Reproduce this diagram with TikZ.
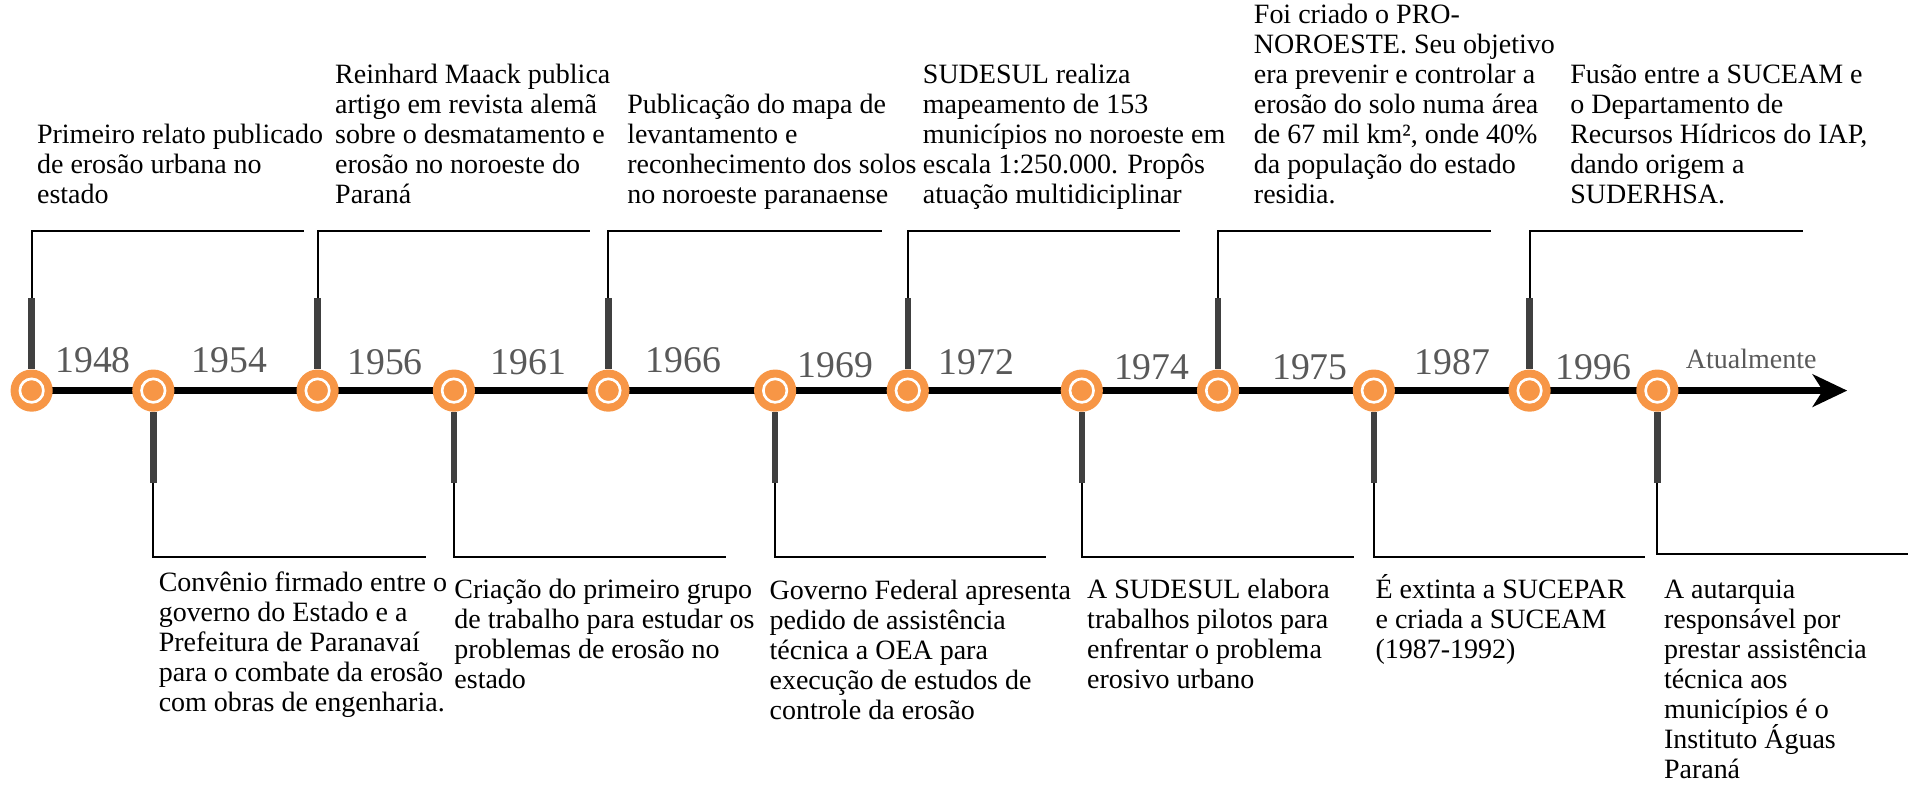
\documentclass[tikz,border=0pt]{standalone}
\usepackage{fontspec}
\setmainfont{Liberation Serif}
\usetikzlibrary{arrows.meta}
\definecolor{dotorange}{HTML}{F79646}
\definecolor{stemgray}{HTML}{404040}
\definecolor{yeargray}{HTML}{595959}

\begin{document}
\begin{tikzpicture}[
				x=0.6pt, y=-0.6pt,
				line width=0.2mm,
				timeline/.style={line width=3.45pt, -{Stealth[length=17pt, width=16pt, inset=5pt]}},
				stem/.style={stemgray, line width=3.2pt},
				leader/.style={black, line width=1pt},
				dot/.style={circle, fill=dotorange, minimum size=20.8pt, inner sep=0pt,
					path picture={\draw[white, line width=1.3pt] (path picture bounding box.center) circle (5.8pt);}},
				year/.style={anchor=base west, inner sep=0pt, text=yeargray, font=\fontsize{18.6}{20}\selectfont},
				event/.style={anchor=base west, inner sep=0pt, align=left, font=\fontsize{13.8}{14.8}\selectfont},
			]
				\useasboundingbox (0,0) rectangle (1568,647);
				% time axis
				\coordinate (start) at (26,321);
				\coordinate (tip) at (1518,321);
				\draw[timeline] (start) -- (tip);
				
				% dots on the axis
				\node (c1948) [dot] at (26,321) {};
				\node (c1954) [dot] at (126,321) {};
				\node (c1956) [dot] at (261,321) {};
				\node (c1961) [dot] at (373,321) {};
				\node (c1966) [dot] at (500,321) {};
				\node (c1969) [dot] at (637,321) {};
				\node (c1972) [dot] at (746,321) {};
				\node (c1974) [dot] at (889,321) {};
				\node (c1975) [dot] at (1001,321) {};
				\node (c1987) [dot] at (1129,321) {};
				\node (c1996) [dot] at (1257,321) {};
				\node (cnow) [dot] at (1362,321) {};
				
				% years
				\node (y1948) [year] at (45,306) {1948};
				\node (y1954) [year] at (157,306) {1954};
				\node (y1956) [year] at (285,308) {1956};
				\node (y1961) [year] at (403,308) {1961};
				\node (y1966) [year] at (530,306) {1966};
				\node (y1969) [year] at (655,310) {1969};
				\node (y1972) [year] at (771,308) {1972};
				\node (y1974) [year] at (915,312) {1974};
				\node (y1975) [year] at (1045,312) {1975};
				\node (y1987) [year] at (1162,308) {1987};
				\node (y1996) [year] at (1278,312) {1996};
				\node (ynow) [year, font=\fontsize{13.8}{15}\selectfont] at (1385,303) {Atualmente};
				
				% stems above the axis
				\coordinate (s1948) at (26,245);   \coordinate (e1948) at (250,190);
				\coordinate (s1956) at (261,245);  \coordinate (e1956) at (485,190);
				\coordinate (s1966) at (500,245);  \coordinate (e1966) at (725,190);
				\coordinate (s1972) at (746,245);  \coordinate (e1972) at (970,190);
				\coordinate (s1975) at (1001,245); \coordinate (e1975) at (1225,190);
				\coordinate (s1996) at (1257,245); \coordinate (e1996) at (1482,190);
				% stems below the axis
				\coordinate (s1954) at (126,397);  \coordinate (e1954) at (350,458);
				\coordinate (s1961) at (373,397);  \coordinate (e1961) at (597,458);
				\coordinate (s1969) at (637,397);  \coordinate (e1969) at (860,458);
				\coordinate (s1974) at (889,397);  \coordinate (e1974) at (1113,458);
				\coordinate (s1987) at (1129,397); \coordinate (e1987) at (1352,458);
				\coordinate (snow) at (1362,397);  \coordinate (enow) at (1568,455);
				
				\draw[stem] (c1948) -- (s1948);
				\draw[stem] (c1956) -- (s1956);
				\draw[stem] (c1966) -- (s1966);
				\draw[stem] (c1972) -- (s1972);
				\draw[stem] (c1975) -- (s1975);
				\draw[stem] (c1996) -- (s1996);
				\draw[stem] (c1954) -- (s1954);
				\draw[stem] (c1961) -- (s1961);
				\draw[stem] (c1969) -- (s1969);
				\draw[stem] (c1974) -- (s1974);
				\draw[stem] (c1987) -- (s1987);
				\draw[stem] (cnow) -- (snow);
				
				\draw[leader] (s1948) -- (s1948 |- e1948) -- (e1948);
				\draw[leader] (s1956) -- (s1956 |- e1956) -- (e1956);
				\draw[leader] (s1966) -- (s1966 |- e1966) -- (e1966);
				\draw[leader] (s1972) -- (s1972 |- e1972) -- (e1972);
				\draw[leader] (s1975) -- (s1975 |- e1975) -- (e1975);
				\draw[leader] (s1996) -- (s1996 |- e1996) -- (e1996);
				\draw[leader] (s1954) -- (s1954 |- e1954) -- (e1954);
				\draw[leader] (s1961) -- (s1961 |- e1961) -- (e1961);
				\draw[leader] (s1969) -- (s1969 |- e1969) -- (e1969);
				\draw[leader] (s1974) -- (s1974 |- e1974) -- (e1974);
				\draw[leader] (s1987) -- (s1987 |- e1987) -- (e1987);
				\draw[leader] (snow) -- (snow |- enow) -- (enow);
				
				% texts above (placed by their last line)
				\node (t1948) [event] at (30,167) {Primeiro relato publicado\\de erosão urbana no\\estado};
				\node (t1956) [event] at (275,167) {Reinhard Maack publica\\artigo em revista alemã\\sobre o desmatamento e\\erosão no noroeste do\\Paraná};
				\node (t1966) [event] at (515,167) {Publicação do mapa de\\levantamento e\\reconhecimento dos solos\\no noroeste paranaense};
				\node (t1972) [event] at (758,167) {SUDESUL realiza\\mapeamento de 153\\municípios no noroeste em\\escala 1:250.000. Propôs\\atuação multidiciplinar};
				\node (t1975) [event] at (1030,167) {Foi criado o PRO-\\NOROESTE. Seu objetivo\\era prevenir e controlar a\\erosão do solo numa área\\de 67 mil km², onde 40\%\\da população do estado\\residia.};
				\node (t1996) [event] at (1290,167) {Fusão entre a SUCEAM e\\o Departamento de\\Recursos Hídricos do IAP,\\dando origem a\\SUDERHSA.};
				
				% texts below (placed by their last line)
				\node (t1954) [event] at (130,585) {Convênio firmado entre o\\governo do Estado e a\\Prefeitura de Paranavaí\\para o combate da erosão\\com obras de engenharia.};
				\node (t1961) [event] at (373,566) {Criação do primeiro grupo\\de trabalho para estudar os\\problemas de erosão no\\estado};
				\node (t1969) [event] at (632,591) {Governo Federal apresenta\\pedido de assistência\\técnica a OEA para\\execução de estudos de\\controle da erosão};
				\node (t1974) [event] at (893,566) {A SUDESUL elabora\\trabalhos pilotos para\\enfrentar o problema\\erosivo urbano};
				\node (t1987) [event] at (1130,541) {É extinta a SUCEPAR\\e criada a SUCEAM\\(1987-1992)};
				\node (tnow) [event] at (1367,640) {A autarquia\\responsável por\\prestar assistência\\técnica aos\\municípios é o\\Instituto Águas\\Paraná};
			\end{tikzpicture}
\end{document}
